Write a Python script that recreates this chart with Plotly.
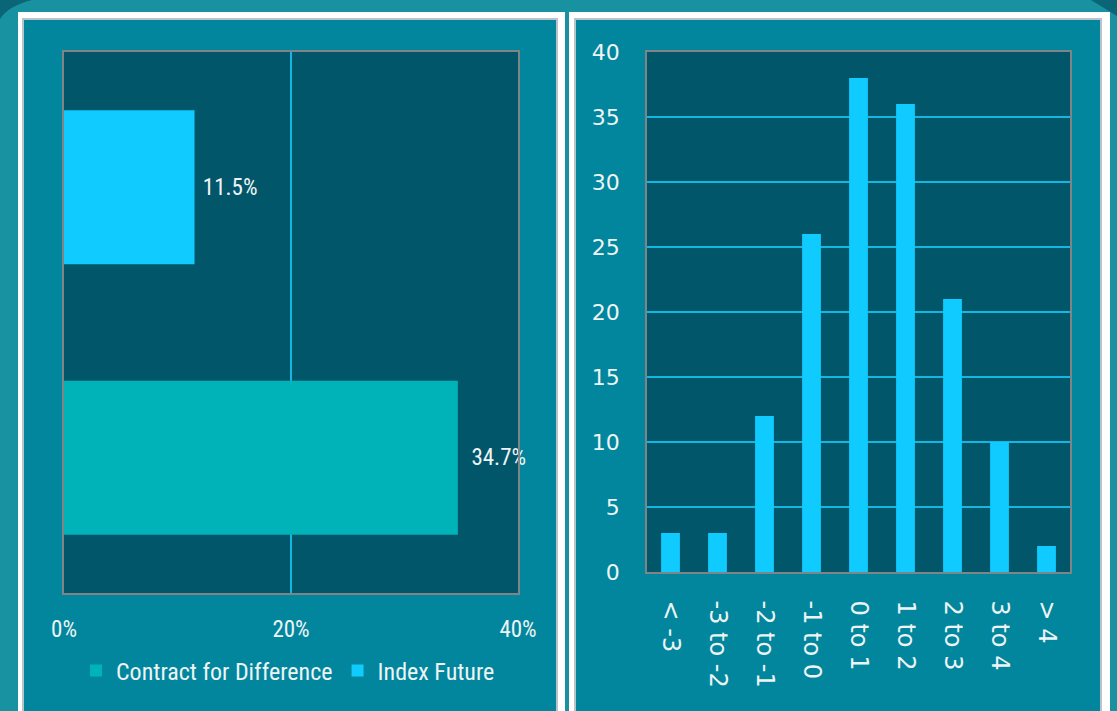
import plotly.graph_objects as go

# ---- data ----
instr_categories = ["Contract for Difference", "Index Future"]
instr_share = [0.347, 0.115]

hist_bins = ["< -3", "-3 to -2", "-2 to -1", "-1 to 0", "0 to 1", "1 to 2", "2 to 3", "3 to 4", "> 4"]
hist_counts = [3, 3, 12, 26, 38, 36, 21, 10, 2]

W, H = 1117, 711
def px(x):
    return x / W
def py(y):
    return 1 - y / H

OUTER = "#1891A1"
PANEL = "#01869E"
PLOT = "#02566A"
GRID = "#14B6E2"
BORDER = "#808486"
TXT = "#EEF4F4"
NARROW = "Roboto Condensed, DejaVu Sans Condensed, Liberation Sans Narrow, Arial Narrow, Liberation Sans, sans-serif"
WIDE = "DejaVu Sans, Verdana, sans-serif"

fig = go.Figure()

cfd_color = "#00B3B8"
idx_color = "#0FCBFF"

fig.add_trace(go.Bar(
    x=[instr_share[0]], y=[instr_categories[0]], orientation="h",
    name=instr_categories[0], marker=dict(color=cfd_color, line=dict(width=0)),
    width=0.57, texttemplate="  %{x:.1%}", textposition="outside",
    textfont=dict(family=NARROW, size=23, color=TXT), cliponaxis=False,
    xaxis="x", yaxis="y", hoverinfo="skip"))
fig.add_trace(go.Bar(
    x=[instr_share[1]], y=[instr_categories[1]], orientation="h",
    name=instr_categories[1], marker=dict(color=idx_color, line=dict(width=0)),
    width=0.57, texttemplate=" %{x:.1%}", textposition="outside",
    textfont=dict(family=NARROW, size=23, color=TXT), cliponaxis=False,
    xaxis="x", yaxis="y", hoverinfo="skip"))

fig.add_trace(go.Bar(
    x=hist_bins, y=hist_counts, marker=dict(color="#0FCBFF", line=dict(width=0)),
    width=0.4, showlegend=False, xaxis="x2", yaxis="y2", hoverinfo="skip"))

shapes = []
# corner decorations
shapes.append(dict(type="path", xref="paper", yref="paper",
                   path=f"M 0 1 L {px(32)} 1 Q {px(8)} {py(6)} 0 {py(19)} Z",
                   fillcolor="#0A6576", line=dict(width=0), layer="below"))
shapes.append(dict(type="path", xref="paper", yref="paper",
                   path=f"M {px(1091)} 1 L 1 1 L 1 {py(16)} Z",
                   fillcolor="#0A6576", line=dict(width=0), layer="below"))
# panels
for (ox0, ox1, ix0, ix1) in [(18, 565, 23, 557), (569, 1110, 575, 1101)]:
    shapes.append(dict(type="rect", xref="paper", yref="paper",
                       x0=px(ox0), x1=px(ox1), y0=py(720), y1=py(12),
                       fillcolor="#FFFFFF", line=dict(width=0), layer="below"))
    shapes.append(dict(type="rect", xref="paper", yref="paper",
                       x0=px(ix0), x1=px(ix1), y0=py(720), y1=py(19),
                       fillcolor=PANEL, line=dict(color="#B8C4C8", width=2), layer="below"))
# plot area fills
for xr, yr in [("x domain", "y domain"), ("x2 domain", "y2 domain")]:
    shapes.append(dict(type="rect", xref=xr, yref=yr, x0=0, x1=1, y0=0, y1=1,
                       fillcolor=PLOT, line=dict(width=0), layer="below"))
fig.update_layout(shapes=shapes)

fig.update_layout(
    width=W, height=H, autosize=False,
    margin=dict(l=0, r=0, t=0, b=0, pad=0, autoexpand=False),
    paper_bgcolor=OUTER, plot_bgcolor=PLOT,
    barmode="overlay",
    font=dict(family=WIDE, color=TXT),
    xaxis=dict(domain=[px(64), px(518)], anchor="y", range=[0, 0.4], dtick=0.2,
               tickformat=".0%", showgrid=True, gridcolor=GRID, gridwidth=1.5,
               zeroline=False, showline=True, mirror=True, linecolor=BORDER, linewidth=1.5,
               ticks="", ticklabelstandoff=15, automargin=False,
               tickfont=dict(family=NARROW, size=23, color=TXT), fixedrange=True),
    yaxis=dict(domain=[py(593), py(52)], anchor="x", type="category",
               categoryorder="array", categoryarray=instr_categories,
               showticklabels=False, showgrid=False, zeroline=False, automargin=False,
               showline=True, mirror=True, linecolor=BORDER, linewidth=1.5, ticks=""),
    xaxis2=dict(domain=[px(647), px(1070)], anchor="y2", type="category",
                showgrid=False, zeroline=False, showline=True, mirror=True, automargin=False,
                linecolor=BORDER, linewidth=1.5, ticks="", tickangle=90,
                ticklabelstandoff=22, tickfont=dict(family=WIDE, size=24, color=TXT)),
    yaxis2=dict(domain=[py(572), py(52)], anchor="x2", range=[0, 40], dtick=5,
                showgrid=True, gridcolor=GRID, gridwidth=1.5, zeroline=False, automargin=False,
                showline=True, mirror=True, linecolor=BORDER, linewidth=1.5, ticks="",
                ticklabelstandoff=21, tickfont=dict(family=WIDE, size=22, color=TXT)),
    legend=dict(orientation="h", x=px(76), y=py(671), xanchor="left", yanchor="middle",
                bgcolor="rgba(0,0,0,0)", font=dict(family=NARROW, size=24, color=TXT),
                itemwidth=30, traceorder="normal"),
)

fig.write_html("out.html", config={"displayModeBar": False},
               post_script="document.body.style.margin='0px';")
